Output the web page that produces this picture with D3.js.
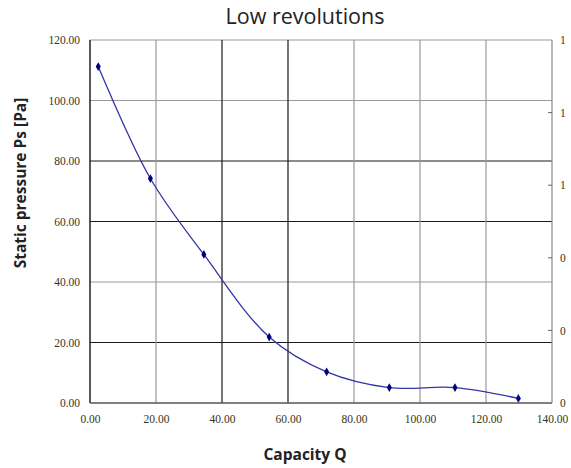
<!DOCTYPE html>
<html><head><meta charset="utf-8">
<script src="https://cdn.jsdelivr.net/npm/d3@7"></script>
<style>body{margin:0;background:#fff}svg{display:block}</style>
</head><body>
<svg id="c" width="571" height="468"></svg>
<script>
const capacity = [2.5, 18.3, 34.5, 54.3, 71.7, 90.7, 110.6, 129.8];
const pressure = [111.2, 74.2, 49.1, 21.8, 10.3, 5.1, 5.1, 1.5];
const xTicks = [0, 20, 40, 60, 80, 100, 120, 140];
const yTicks = [0, 20, 40, 60, 80, 100, 120];
const rightTicks = [0, 0.2, 0.4, 0.6, 0.8, 1];
const darkX = [40, 60];
const darkY = [20, 60, 80];

const svg = d3.select("#c");
const L = 90, R = 552, T = 40, B = 403;
const x = d3.scaleLinear().domain([0, 140]).range([L, R]);
const y = d3.scaleLinear().domain([0, 120]).range([B, T]);
const y2 = d3.scaleLinear().domain([0, 1]).range([B, T]);
const fmt = d3.format(".2f");

// grid
svg.append("g").selectAll("line").data(yTicks.filter(d => d > 0)).join("line")
  .attr("x1", L).attr("x2", R).attr("y1", d => y(d)).attr("y2", d => y(d))
  .attr("stroke", d => darkY.includes(d) ? "#1a1a1a" : "#9a9a9a").attr("stroke-width", 1.2);
svg.append("g").selectAll("line").data(xTicks.filter(d => d > 0 && d < 140)).join("line")
  .attr("y1", T).attr("y2", B).attr("x1", d => x(d)).attr("x2", d => x(d))
  .attr("stroke", d => darkX.includes(d) ? "#1a1a1a" : "#9a9a9a").attr("stroke-width", 1.2);

// frame
svg.append("line").attr("x1", L).attr("x2", L).attr("y1", T).attr("y2", B).attr("stroke", "#222").attr("stroke-width", 1.5);
svg.append("line").attr("x1", L).attr("x2", R).attr("y1", B).attr("y2", B).attr("stroke", "#555").attr("stroke-width", 1.5);
svg.append("line").attr("x1", R).attr("x2", R).attr("y1", T).attr("y2", B).attr("stroke", "#888").attr("stroke-width", 1.2);

// left axis
const ya = svg.append("g").attr("transform", `translate(${L},0)`)
  .call(d3.axisLeft(y).tickValues(yTicks).tickFormat(fmt).tickSize(0).tickPadding(10));
ya.select(".domain").remove();
ya.selectAll("text").attr("font-family", "Liberation Serif, serif").attr("font-size", 11.5).attr("fill", "#3a3320");

// bottom axis
const xa = svg.append("g").attr("transform", `translate(0,${B})`)
  .call(d3.axisBottom(x).tickValues(xTicks).tickFormat(fmt).tickSize(0).tickPadding(12));
xa.select(".domain").remove();
xa.selectAll("text").attr("font-family", "Liberation Serif, serif").attr("font-size", 11.5).attr("fill", "#3a3320");

// right axis
const ra = svg.append("g").attr("transform", `translate(${R},0)`)
  .call(d3.axisRight(y2).tickValues(rightTicks).tickFormat(d3.format(".0f")).tickSize(0).tickPadding(8));
ra.select(".domain").remove();
ra.selectAll("text").attr("font-family", "Liberation Serif, serif").attr("font-size", 11.5).attr("fill", "#3a3320");
svg.append("g").selectAll("line").data(rightTicks.filter(d => d > 0 && d < 1)).join("line")
  .attr("x1", R - 4).attr("x2", R).attr("y1", d => y2(d)).attr("y2", d => y2(d)).attr("stroke", "#666");

// line
const pts = capacity.map((c, i) => [c, pressure[i]]);
svg.append("path").datum(pts)
  .attr("d", d3.line().x(d => x(d[0])).y(d => y(d[1])).curve(d3.curveCatmullRom.alpha(0.5)))
  .attr("fill", "none").attr("stroke", "#3535a5").attr("stroke-width", 1.3);
svg.append("g").selectAll("path").data(pts).join("path")
  .attr("d", d3.symbol(d3.symbolDiamond, 22))
  .attr("transform", d => `translate(${x(d[0])},${y(d[1])})`)
  .attr("fill", "#000080");

// titles
svg.append("text").attr("x", 305).attr("y", 24).attr("text-anchor", "middle")
  .attr("font-family", "Open Sans, sans-serif").attr("font-size", 21.5).attr("fill", "#222").text("Low revolutions");
svg.append("text").attr("x", 305).attr("y", 460).attr("text-anchor", "middle")
  .attr("font-family", "Open Sans, sans-serif").attr("font-weight", "bold").attr("font-size", 15.5).attr("fill", "#222").text("Capacity Q");
svg.append("text").attr("transform", "translate(26,183) rotate(-90)").attr("text-anchor", "middle")
  .attr("font-family", "Open Sans, sans-serif").attr("font-weight", "bold").attr("font-size", 15.5).attr("fill", "#222").text("Static pressure Ps [Pa]");
</script>
</body></html>
